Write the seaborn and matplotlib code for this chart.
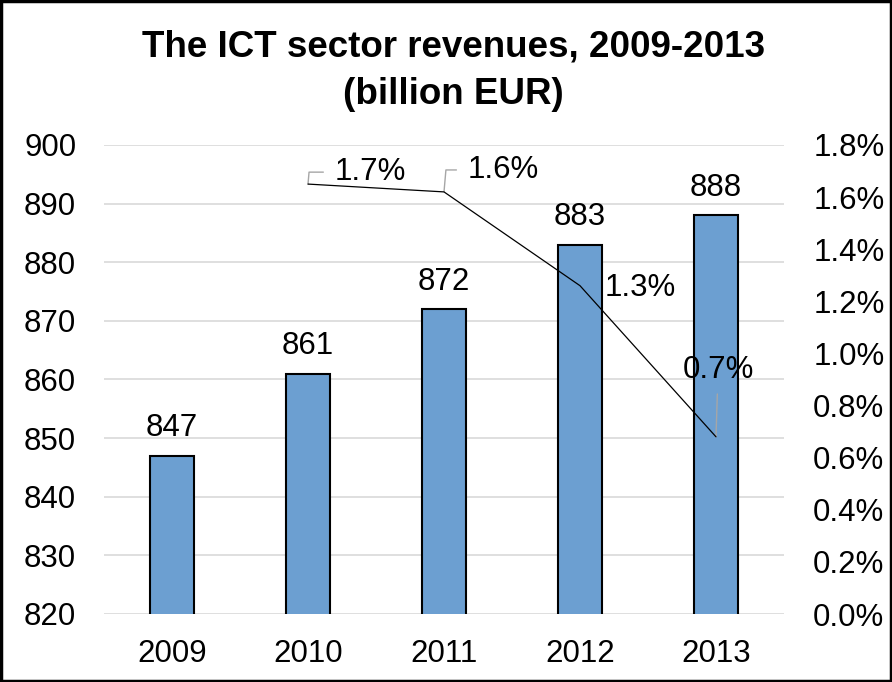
import matplotlib
matplotlib.use("Agg")
import matplotlib.pyplot as plt
import seaborn as sns
import pandas as pd
from matplotlib.patches import Rectangle

years = ["2009", "2010", "2011", "2012", "2013"]
revenues = [847, 861, 872, 883, 888]
growth_years = ["2010", "2011", "2012", "2013"]
growth = [1.65, 1.62, 1.26, 0.68]
growth_labels = ["1.7%", "1.6%", "1.3%", "0.7%"]
left_ticks = [820, 830, 840, 850, 860, 870, 880, 890, 900]
right_ticks = [0.0, 0.2, 0.4, 0.6, 0.8, 1.0, 1.2, 1.4, 1.6, 1.8]

sns.set_theme(style="white")
plt.rcParams['font.family'] = ['Liberation Sans', 'DejaVu Sans']

FS = 22.5
fig = plt.figure(figsize=(8.92, 6.82), dpi=100)
ax = fig.add_axes([104/892, 68/682, 680/892, (614-145)/682])

df = pd.DataFrame({"year": years, "rev": revenues})
sns.barplot(data=df, x="year", y="rev", ax=ax, color="#6C9FD1", saturation=1,
            width=0.32, edgecolor="black", linewidth=1.5, zorder=3)
ax.set_ylim(820, 900)
ax.set_yticks(left_ticks)
ax.set_xlim(-0.5, 4.5)
ax.yaxis.grid(True, color="#D9D9D9", linewidth=1.2, zorder=0)
ax.set_axisbelow(True)
for s in ax.spines.values():
    s.set_visible(False)
ax.set_xlabel("")
ax.set_ylabel("")
ax.tick_params(axis="both", length=0, labelsize=FS, colors="black")
ax.tick_params(axis="x", pad=18)
ax.tick_params(axis="y", pad=20)

for i, v in enumerate(revenues):
    ax.annotate(str(v), (i, v), xytext=(0, 9), textcoords="offset points",
                ha="center", va="bottom", fontsize=FS, color="black")

ax2 = ax.twinx()
xi = [years.index(y) for y in growth_years]
sns.lineplot(x=xi, y=growth, ax=ax2, color="black", linewidth=0.9, zorder=4)
ax2.set_ylim(0, 1.8)
ax2.set_yticks(right_ticks)
ax2.set_yticklabels([f"{t:.1f}%" for t in right_ticks])
for s in ax2.spines.values():
    s.set_visible(False)
ax2.tick_params(axis="y", length=0, labelsize=FS, colors="black", pad=21)
ax2.set_ylabel("")

leader = dict(arrowstyle="-", color="#A6A6A6", lw=1.0,
              connectionstyle="angle,angleA=0,angleB=85,rad=0", shrinkA=6, shrinkB=0)
# 1.7% and 1.6% with bracket leaders
ax2.annotate(growth_labels[0], (xi[0], growth[0]), xytext=(19.4, 8.6),
             textcoords="offset points", ha="left", va="center", fontsize=FS,
             color="black", arrowprops=leader)
ax2.annotate(growth_labels[1], (xi[1], growth[1]), xytext=(17.3, 15.8),
             textcoords="offset points", ha="left", va="center", fontsize=FS,
             color="black", arrowprops=leader)
# 1.3% without leader
ax2.annotate(growth_labels[2], (xi[2], growth[2]), xytext=(18, -1.4),
             textcoords="offset points", ha="left", va="center", fontsize=FS,
             color="black")
# 0.7% with straight leader
ax2.annotate(growth_labels[3], (xi[3], growth[3]), xytext=(1.5, 48),
             textcoords="offset points", ha="center", va="center", fontsize=FS,
             color="black",
             arrowprops=dict(arrowstyle="-", color="#A6A6A6", lw=1.0,
                             shrinkA=4, shrinkB=0))

fig.text(0.508, 1 - 47/682, "The ICT sector revenues, 2009-2013", ha="center", va="center",
         fontsize=26.5, fontweight="bold", color="black")
fig.text(0.508, 1 - 95/682, "(billion EUR)", ha="center", va="center",
         fontsize=26.5, fontweight="bold", color="black")

fig.patches.append(Rectangle((0.001, 0.001), 0.998, 0.997, transform=fig.transFigure,
                             fill=False, edgecolor="black", linewidth=2.5))

fig.savefig("out.png", dpi=100)
